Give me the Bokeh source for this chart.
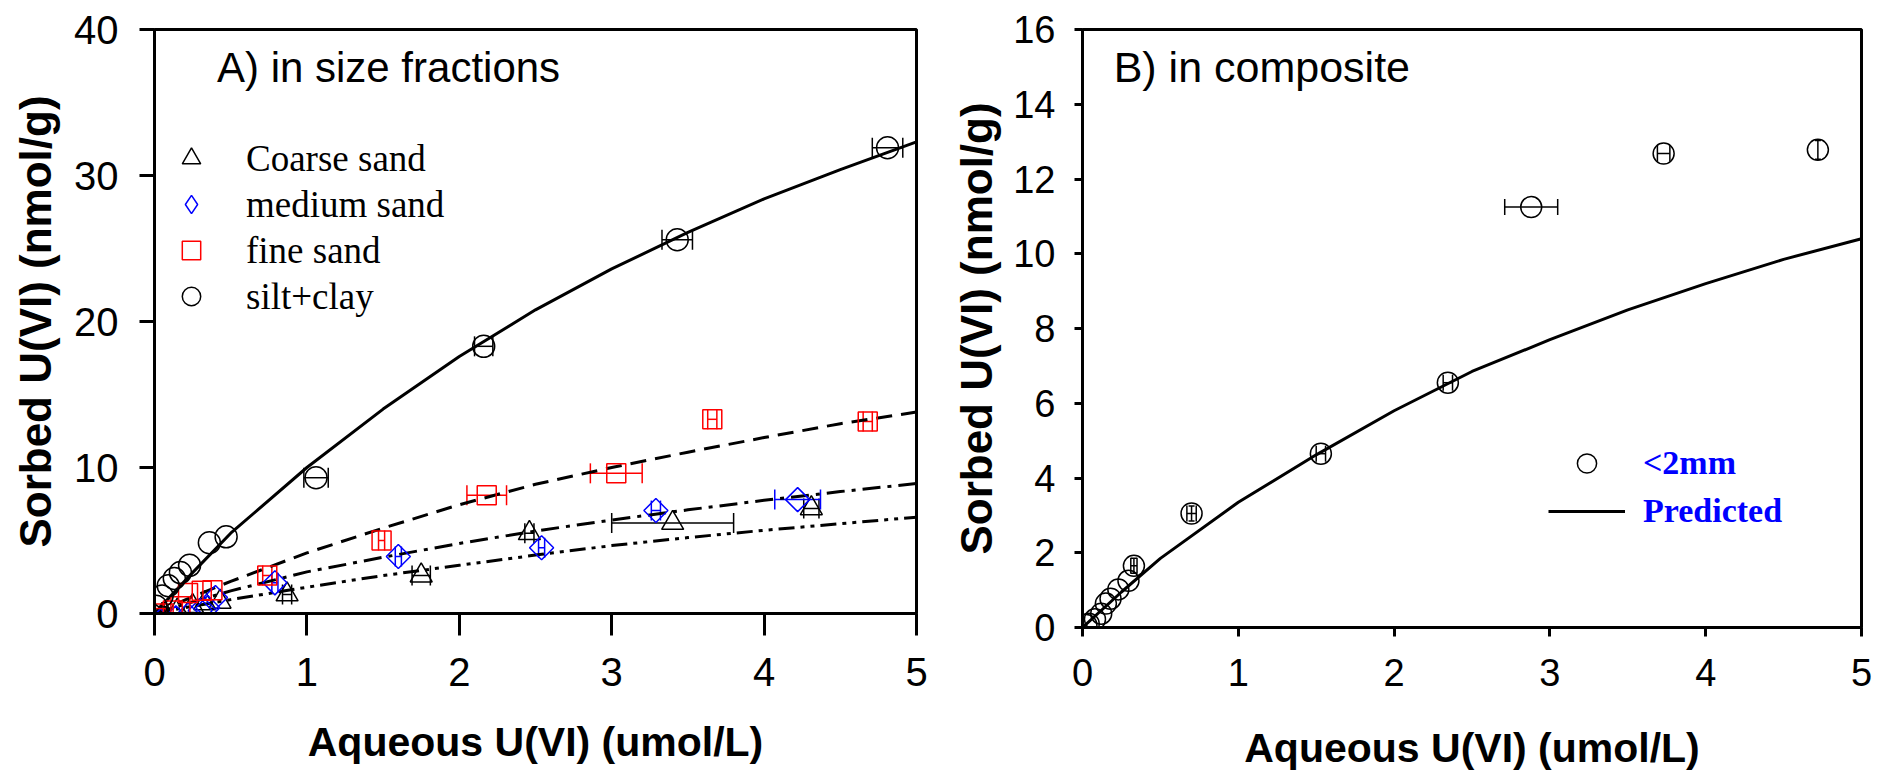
import numpy as np
from bokeh.plotting import figure
from bokeh.models import (Range1d, ColumnDataSource, Whisker, TeeHead, Legend,
                          LegendItem, Label, FixedTicker)
from bokeh.layouts import row
from bokeh.embed import file_html
from bokeh.resources import INLINE

# ---------------- Panel A data ----------------
coarse_x = [0.05, 0.15, 0.25, 0.33, 0.43, 0.87, 1.75, 2.46, 3.40, 4.31]
coarse_y = [-0.1, 0.2, 0.5, 0.7, 0.8, 1.3, 2.6, 5.5, 6.2, 7.2]
coarse_xerr = [0, 0, 0, 0, 0, 0.03, 0.06, 0.03, 0.40, 0.05]

medium_x = [0.04, 0.14, 0.22, 0.30, 0.35, 0.40, 0.79, 1.60, 2.54, 3.29, 4.22]
medium_y = [-0.5, -0.3, -0.1, 0.2, 0.4, 1.1, 2.1, 3.9, 4.5, 7.05, 7.8]
medium_xerr = [0, 0, 0, 0, 0, 0, 0.02, 0.02, 0.02, 0.03, 0.15]

fine_x = [0.01, 0.06, 0.12, 0.17, 0.22, 0.31, 0.38, 0.74, 1.49, 2.18, 3.03, 3.66, 4.68]
fine_y = [-0.3, 0.0, 0.2, 0.5, 1.4, 1.55, 1.6, 2.6, 5.0, 8.1, 9.6, 13.3, 13.15]
fine_xerr = [0, 0, 0, 0, 0, 0, 0, 0.03, 0.02, 0.13, 0.17, 0.03, 0.03]

silt_x = [0.01, 0.05, 0.09, 0.13, 0.17, 0.23, 0.36, 0.47, 1.06, 2.16, 3.43, 4.81]
silt_y = [0.5, 1.2, 1.9, 2.4, 2.8, 3.3, 4.85, 5.25, 9.3, 18.3, 25.6, 31.9]
silt_xerr = [0, 0, 0, 0, 0, 0, 0, 0, 0.08, 0.06, 0.10, 0.10]

curve_x = [0, 0.25, 0.5, 1, 1.5, 2, 2.5, 3, 3.5, 4, 4.5, 5]
fit_silt = [0, 2.8, 5.5, 10.0, 14.0, 17.6, 20.8, 23.6, 26.1, 28.4, 30.4, 32.3]
fit_fine = [0, 1.15, 2.2, 4.15, 5.85, 7.45, 8.85, 10.0, 11.05, 12.05, 13.0, 13.8]
fit_medium = [0, 0.8, 1.55, 2.85, 3.85, 4.8, 5.65, 6.4, 7.1, 7.75, 8.35, 8.9]
fit_coarse = [0, 0.5, 0.95, 1.8, 2.6, 3.3, 4.0, 4.65, 5.2, 5.7, 6.15, 6.6]

a_xticks = [0, 1, 2, 3, 4, 5]
a_yticks = [0, 10, 20, 30, 40]

# ---------------- Panel B data ----------------
comp_x = [0.025, 0.04, 0.08, 0.12, 0.15, 0.18, 0.23, 0.295, 0.33, 0.70, 1.53, 2.345, 2.88, 3.73, 4.72]
comp_y = [0.07, 0.10, 0.22, 0.37, 0.64, 0.77, 1.02, 1.25, 1.65, 3.05, 4.65, 6.55, 11.25, 12.68, 12.78]
comp_xerr = [0, 0, 0, 0, 0, 0, 0, 0, 0.02, 0.03, 0.03, 0.03, 0.17, 0.04, 0]
comp_yerr = [0, 0, 0, 0, 0, 0, 0, 0, 0.2, 0.2, 0, 0, 0, 0, 0.25]

pred_x = [0, 0.25, 0.5, 1, 1.5, 2, 2.5, 3, 3.5, 4, 4.5, 5]
pred_y = [0, 0.95, 1.85, 3.35, 4.62, 5.8, 6.85, 7.7, 8.5, 9.2, 9.85, 10.4]

b_xticks = [0, 1, 2, 3, 4, 5]
b_yticks = [0, 2, 4, 6, 8, 10, 12, 14, 16]

SANS = "Liberation Sans"
SERIF = "Liberation Serif"


def style(p, xticks, yticks, tick_font, xt_out, yt_out, xstand, ystand, xl_stand, yl_stand,
          xl_size, yl_size):
    p.xgrid.visible = False
    p.ygrid.visible = False
    p.outline_line_color = "black"
    p.outline_line_width = 3
    p.xaxis.ticker = FixedTicker(ticks=xticks)
    p.yaxis.ticker = FixedTicker(ticks=yticks)
    for ax in (p.xaxis[0], p.yaxis[0]):
        ax.axis_line_width = 3
        ax.major_tick_line_width = 3
        ax.major_tick_in = 0
        ax.minor_tick_line_color = None
        ax.major_label_text_font = SANS
        ax.major_label_text_font_size = tick_font
        ax.major_label_text_color = "black"
        ax.axis_label_text_font = SANS
        ax.axis_label_text_font_style = "bold"
        ax.axis_label_text_color = "black"
    p.xaxis.major_tick_out = xt_out
    p.yaxis.major_tick_out = yt_out
    p.xaxis.major_label_standoff = xstand
    p.yaxis.major_label_standoff = ystand
    p.xaxis.axis_label_standoff = xl_stand
    p.yaxis.axis_label_standoff = yl_stand
    p.xaxis.axis_label_text_font_size = xl_size
    p.yaxis.axis_label_text_font_size = yl_size


def add_xerr(p, xs, ys, errs, color, size=20):
    sel = [i for i, e in enumerate(errs) if e > 0]
    src = ColumnDataSource(dict(
        y=[ys[i] for i in sel],
        lo=[xs[i] - errs[i] for i in sel],
        hi=[xs[i] + errs[i] for i in sel]))
    w = Whisker(base="y", lower="lo", upper="hi", dimension="width", source=src,
                line_color=color, line_width=1.5,
                lower_head=TeeHead(size=size, line_color=color, line_width=1.5),
                upper_head=TeeHead(size=size, line_color=color, line_width=1.5))
    p.add_layout(w)


def add_yerr(p, xs, ys, errs, color, size=8):
    sel = [i for i, e in enumerate(errs) if e > 0]
    src = ColumnDataSource(dict(
        x=[xs[i] for i in sel],
        lo=[ys[i] - errs[i] for i in sel],
        hi=[ys[i] + errs[i] for i in sel]))
    w = Whisker(base="x", lower="lo", upper="hi", dimension="height", source=src,
                line_color=color, line_width=1.5,
                lower_head=TeeHead(size=size, line_color=color, line_width=1.5),
                upper_head=TeeHead(size=size, line_color=color, line_width=1.5))
    p.add_layout(w)


# ================= Panel A =================
p1 = figure(frame_width=762, frame_height=584, output_backend="svg", toolbar_location=None,
            x_range=Range1d(0, 5), y_range=Range1d(0, 40),
            min_border_left=154, min_border_right=32, min_border_top=29, min_border_bottom=163,
            x_axis_label="Aqueous U(VI) (umol/L)", y_axis_label="Sorbed U(VI) (nmol/g)")
style(p1, a_xticks, a_yticks, "40px", 22, 15, 22, 21, 30, 11, "41px", "44px")

p1.line(curve_x, fit_silt, line_color="black", line_width=3)
p1.line(curve_x, fit_fine, line_color="black", line_width=3, line_dash="16 9")
p1.line(curve_x, fit_medium, line_color="black", line_width=3, line_dash="18 7 4 7")
p1.line(curve_x, fit_coarse, line_color="black", line_width=3, line_dash="16 6 4 6 4 6")

add_xerr(p1, coarse_x, coarse_y, coarse_xerr, "black")
add_xerr(p1, medium_x, medium_y, medium_xerr, "blue")
add_xerr(p1, fine_x, fine_y, fine_xerr, "red")
add_xerr(p1, silt_x, silt_y, silt_xerr, "black")

r_coarse = p1.scatter(coarse_x, coarse_y, marker="triangle", size=22, fill_alpha=0,
                      line_color="black", line_width=1.5)
r_medium = p1.scatter(medium_x, medium_y, marker="square", angle=np.pi / 4, size=17,
                      fill_alpha=0, line_color="blue", line_width=1.5)
r_fine = p1.scatter(fine_x, fine_y, marker="square", size=19, fill_alpha=0,
                    line_color="red", line_width=1.5)
r_silt = p1.scatter(silt_x, silt_y, marker="circle", size=22, fill_alpha=0,
                    line_color="black", line_width=1.5)
# legend glyph for the diamonds (the legend does not rotate markers)
r_medium_leg = p1.scatter(medium_x[:1], medium_y[:1], marker="diamond", size=1,
                          fill_alpha=0, line_color="blue", line_width=1.5)

leg1 = Legend(items=[LegendItem(label="Coarse sand", renderers=[r_coarse]),
                     LegendItem(label="medium sand", renderers=[r_medium_leg]),
                     LegendItem(label="fine sand", renderers=[r_fine]),
                     LegendItem(label="silt+clay", renderers=[r_silt])],
              location=(11, 294), padding=0, spacing=0, margin=0,
              glyph_width=52, glyph_height=46, label_height=46, label_standoff=29,
              label_text_font=SERIF, label_text_font_size="37px",
              label_text_color="black",
              background_fill_alpha=0, border_line_alpha=0)
p1.add_layout(leg1)

p1.add_layout(Label(x=0.41, y=37.4, text="A) in size fractions", text_font=SANS,
                    text_font_size="42px", text_color="black", text_baseline="middle"))

# ================= Panel B =================
p2 = figure(frame_width=779, frame_height=598, output_backend="svg", toolbar_location=None,
            x_range=Range1d(0, 5), y_range=Range1d(0, 16),
            min_border_left=134, min_border_right=16, min_border_top=24, min_border_bottom=154,
            x_axis_label="Aqueous U(VI) (umol/L)", y_axis_label="Sorbed U(VI) (nmol/g)")
style(p2, b_xticks, b_yticks, "38px", 9, 8, 22, 19, 36, 9, "41px", "44px")

r_pred = p2.line(pred_x, pred_y, line_color="black", line_width=3)
add_xerr(p2, comp_x, comp_y, comp_xerr, "black", size=16)
add_yerr(p2, comp_x, comp_y, comp_yerr, "black", size=6)
r_comp = p2.scatter(comp_x, comp_y, marker="circle", size=21, fill_alpha=0,
                    line_color="black", line_width=1.5)

leg2 = Legend(items=[LegendItem(label="<2mm", renderers=[r_comp]),
                     LegendItem(label="Predicted", renderers=[r_pred])],
              location=(466, 92), padding=0, spacing=0, margin=0,
              glyph_width=77, glyph_height=48, label_height=48, label_standoff=18,
              label_text_font=SERIF, label_text_font_size="34px",
              label_text_font_style="bold", label_text_color="blue",
              background_fill_alpha=0, border_line_alpha=0)
p2.add_layout(leg2)

p2.add_layout(Label(x=0.2, y=15.0, text="B) in composite", text_font=SANS,
                    text_font_size="43px", text_color="black", text_baseline="middle"))

layout = row(p1, p2)
open("out.html", "w").write(file_html(layout, INLINE))
